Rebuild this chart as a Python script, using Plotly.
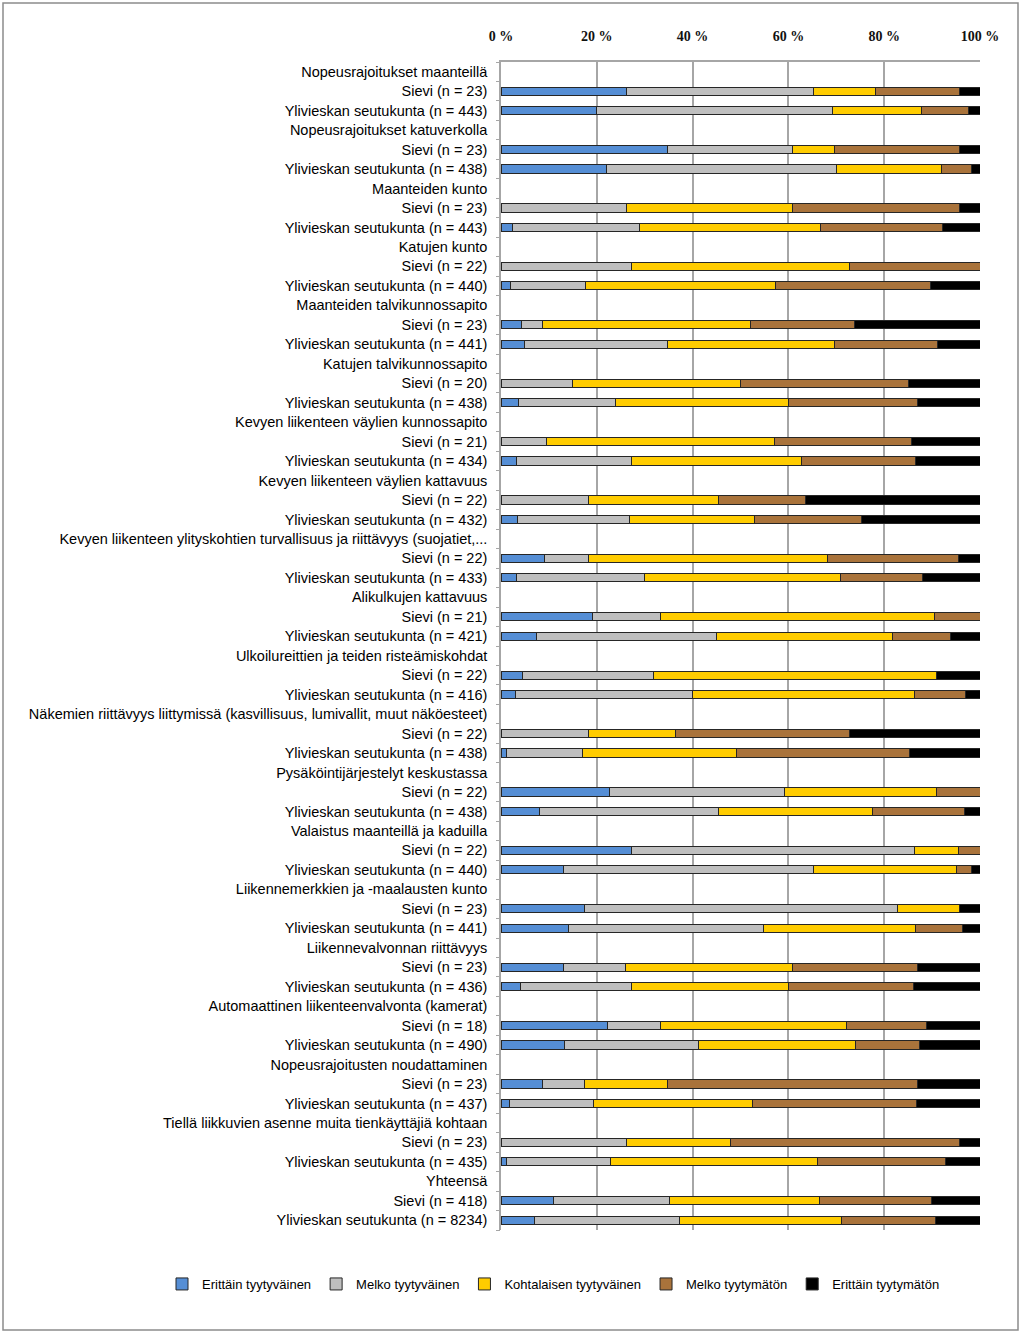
import plotly.graph_objects as go

categories = [
    "Nopeusrajoitukset maanteillä", "Sievi (n = 23)", "Ylivieskan seutukunta (n = 443)",
    "Nopeusrajoitukset katuverkolla", "Sievi (n = 23)", "Ylivieskan seutukunta (n = 438)",
    "Maanteiden kunto", "Sievi (n = 23)", "Ylivieskan seutukunta (n = 443)",
    "Katujen kunto", "Sievi (n = 22)", "Ylivieskan seutukunta (n = 440)",
    "Maanteiden talvikunnossapito", "Sievi (n = 23)", "Ylivieskan seutukunta (n = 441)",
    "Katujen talvikunnossapito", "Sievi (n = 20)", "Ylivieskan seutukunta (n = 438)",
    "Kevyen liikenteen väylien kunnossapito", "Sievi (n = 21)", "Ylivieskan seutukunta (n = 434)",
    "Kevyen liikenteen väylien kattavuus", "Sievi (n = 22)", "Ylivieskan seutukunta (n = 432)",
    "Kevyen liikenteen ylityskohtien turvallisuus ja riittävyys (suojatiet,...", "Sievi (n = 22)", "Ylivieskan seutukunta (n = 433)",
    "Alikulkujen kattavuus", "Sievi (n = 21)", "Ylivieskan seutukunta (n = 421)",
    "Ulkoilureittien ja teiden risteämiskohdat", "Sievi (n = 22)", "Ylivieskan seutukunta (n = 416)",
    "Näkemien riittävyys liittymissä (kasvillisuus, lumivallit, muut näköesteet)", "Sievi (n = 22)", "Ylivieskan seutukunta (n = 438)",
    "Pysäköintijärjestelyt keskustassa", "Sievi (n = 22)", "Ylivieskan seutukunta (n = 438)",
    "Valaistus maanteillä ja kaduilla", "Sievi (n = 22)", "Ylivieskan seutukunta (n = 440)",
    "Liikennemerkkien ja -maalausten kunto", "Sievi (n = 23)", "Ylivieskan seutukunta (n = 441)",
    "Liikennevalvonnan riittävyys", "Sievi (n = 23)", "Ylivieskan seutukunta (n = 436)",
    "Automaattinen liikenteenvalvonta (kamerat)", "Sievi (n = 18)", "Ylivieskan seutukunta (n = 490)",
    "Nopeusrajoitusten noudattaminen", "Sievi (n = 23)", "Ylivieskan seutukunta (n = 437)",
    "Tiellä liikkuvien asenne muita tienkäyttäjiä kohtaan", "Sievi (n = 23)", "Ylivieskan seutukunta (n = 435)",
    "Yhteensä", "Sievi (n = 418)", "Ylivieskan seutukunta (n = 8234)",
]

series_names = ["Erittäin tyytyväinen", "Melko tyytyväinen", "Kohtalaisen tyytyväinen",
                "Melko tyytymätön", "Erittäin tyytymätön"]

# None = header row (no bar)
erittain_tyytyvainen = [
    None, 26.1, 20.0, None, 34.8, 22.1, None, 0, 2.3, None, 0, 1.9,
    None, 4.3, 5.0, None, 0, 3.7, None, 0, 3.2, None, 0, 3.4,
    None, 9.1, 3.2, None, 19.0, 7.4, None, 4.5, 3.1, None, 0, 1.1,
    None, 22.7, 8.0, None, 27.3, 13.0, None, 17.4, 14.1, None, 13.0, 4.0,
    None, 22.2, 13.3, None, 8.7, 1.8, None, 0, 1.1, None, 10.9, 7.0,
]
melko_tyytyvainen = [
    None, 39.1, 49.2, None, 26.1, 48.0, None, 26.1, 26.6, None, 27.3, 15.8,
    None, 4.3, 29.7, None, 15.0, 20.1, None, 9.5, 24.0, None, 18.2, 23.4,
    None, 9.1, 26.8, None, 14.3, 37.5, None, 27.3, 36.8, None, 18.2, 16.0,
    None, 36.4, 37.4, None, 59.1, 52.2, None, 65.2, 40.8, None, 13.0, 23.3,
    None, 11.1, 28.0, None, 8.7, 17.6, None, 26.1, 21.8, None, 24.2, 30.2,
]
kohtalaisen_tyytyvainen = [
    None, 13.0, 18.6, None, 8.7, 21.9, None, 34.8, 37.9, None, 45.5, 39.6,
    None, 43.5, 34.9, None, 35.0, 36.3, None, 47.6, 35.5, None, 27.3, 26.1,
    None, 50.0, 40.9, None, 57.1, 36.8, None, 59.1, 46.4, None, 18.2, 32.0,
    None, 31.8, 32.2, None, 9.1, 29.9, None, 13.0, 31.6, None, 34.8, 32.8,
    None, 38.9, 32.7, None, 17.4, 33.2, None, 21.7, 43.2, None, 31.4, 33.8,
]
melko_tyytymaton = [
    None, 17.4, 9.8, None, 26.1, 6.3, None, 34.8, 25.3, None, 27.3, 32.3,
    None, 21.7, 21.5, None, 35.0, 26.9, None, 28.6, 23.9, None, 18.2, 22.4,
    None, 27.3, 17.1, None, 9.5, 12.1, None, 0, 10.6, None, 36.4, 36.1,
    None, 9.1, 19.2, None, 4.5, 3.2, None, 0, 9.8, None, 26.1, 26.1,
    None, 16.7, 13.3, None, 52.2, 34.1, None, 47.8, 26.7, None, 23.3, 19.8,
]
erittain_tyytymaton = [
    None, 4.3, 2.4, None, 4.3, 1.7, None, 4.3, 7.9, None, 0, 10.4,
    None, 26.1, 8.9, None, 15.0, 13.0, None, 14.3, 13.4, None, 36.4, 24.7,
    None, 4.5, 12.0, None, 0, 6.2, None, 9.1, 3.1, None, 27.3, 14.8,
    None, 0, 3.2, None, 0, 1.7, None, 4.3, 3.7, None, 13.0, 13.8,
    None, 11.1, 12.7, None, 13.0, 13.3, None, 4.3, 7.1, None, 10.2, 9.2,
]

x_ticks = [0, 20, 40, 60, 80, 100]
x_tick_labels = ["0 %", "20 %", "40 %", "60 %", "80 %", "100 %"]

colors = ["#558ED5", "#BFBFBF", "#FFCC00", "#A9733B", "#000000"]
all_series = [erittain_tyytyvainen, melko_tyytyvainen, kohtalaisen_tyytyvainen,
              melko_tyytymaton, erittain_tyytymaton]

positions = list(range(len(categories)))

fig = go.Figure()
for name, vals, col in zip(series_names, all_series, colors):
    fig.add_trace(go.Bar(
        y=positions, x=vals, name=name, orientation="h",
        marker=dict(color=col, line=dict(color="#262626", width=1)),
        width=0.42,
    ))

W, H = 1024, 1333
L, R, T, B = 501, 44, 62, 103
pw = W - L - R
ph = H - T - B

def px2paper_x(px):
    return (px - L) / pw

def px2paper_y(py):
    return (H - B - py) / ph

# invisible trace on overlay axis for boundary tick marks
fig.add_trace(go.Scatter(x=[None], y=[None], yaxis="y2", showlegend=False, hoverinfo="skip"))

fig.update_layout(
    width=W, height=H,
    margin=dict(l=L, r=R, t=T, b=B),
    paper_bgcolor="white", plot_bgcolor="white",
    barmode="stack", barnorm="percent",
    font=dict(family="Liberation Sans, Arial, sans-serif", size=14.5, color="#000000"),
    xaxis=dict(
        side="top", range=[0, 100], tickmode="array", tickvals=x_ticks, ticktext=x_tick_labels,
        tickfont=dict(size=14, family="Liberation Serif, serif", weight="bold", color="#111"),
        showgrid=True, gridcolor="#A6A6A6", gridwidth=1.5,
        showline=True, linecolor="#A6A6A6", linewidth=1.5, mirror=False,
        zeroline=False, ticks="", ticklabelstandoff=14, fixedrange=True,
    ),
    yaxis=dict(
        tickmode="array", tickvals=positions, ticktext=categories,
        range=[len(categories) - 0.5, -0.5],
        showgrid=False, zeroline=False, ticks="",
        showline=True, linecolor="#A6A6A6", linewidth=1.5,
        ticklabelstandoff=9, tickfont=dict(size=14.5),
    ),
    yaxis2=dict(
        overlaying="y", side="left", range=[len(categories) - 0.5, -0.5],
        tickmode="array", tickvals=[i - 0.5 for i in range(len(categories) + 1)],
        showticklabels=False, ticks="outside", ticklen=4, tickcolor="#A6A6A6",
        showgrid=False, zeroline=False, showline=False,
    ),
    legend=dict(
        orientation="h", x=px2paper_x(162), xanchor="left",
        y=px2paper_y(1284), yanchor="middle",
        font=dict(size=13), itemwidth=30, traceorder="normal",
        bgcolor="rgba(0,0,0,0)",
    ),
    shapes=[dict(
        type="rect", xref="paper", yref="paper",
        x0=px2paper_x(3), x1=px2paper_x(1018),
        y0=px2paper_y(1330), y1=px2paper_y(3),
        line=dict(color="#8C8C8C", width=1.5), fillcolor="rgba(0,0,0,0)", layer="below",
    )],
    showlegend=True,
)

fig.write_html("out.html", config={"displayModeBar": False},
               post_script="document.body.style.margin='0';")
